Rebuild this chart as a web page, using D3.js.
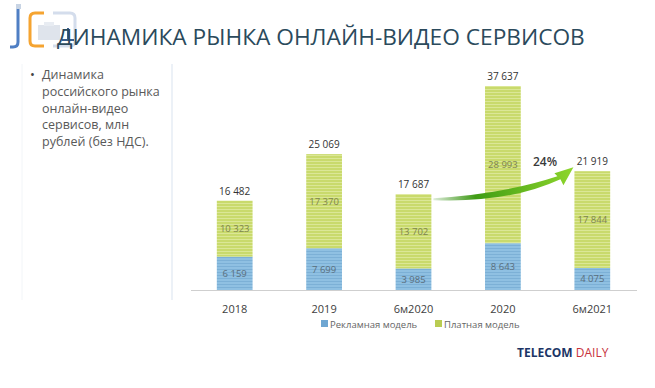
<!DOCTYPE html>
<html>
<head>
<meta charset="utf-8">
<script src="https://cdn.jsdelivr.net/npm/d3@7"></script>
<style>
  body { margin: 0; background: #fff; }
  svg { display: block; font-family: "Open Sans", "Noto Sans", sans-serif; }
</style>
</head>
<body>
<div id="chart"></div>
<script>
// categories and series (mln rubles, without VAT)
var categories = ["2018", "2019", "6м2020", "2020", "6м2021"];
var adModel = [6159, 7699, 3985, 8643, 4075];
var paidModel = [10323, 17370, 13702, 28993, 17844];
var totals = [16482, 25069, 17687, 37637, 21919];
var seriesNames = ["Рекламная модель", "Платная модель"];
var growthLabel = "24%";

var W = 655, H = 388;
var svg = d3.select("#chart").append("svg")
    .attr("width", W)
    .attr("height", H);

var defs = svg.append("defs");

// striped fills
function stripes(id, base, line) {
    var p = defs.append("pattern")
        .attr("id", id)
        .attr("patternUnits", "userSpaceOnUse")
        .attr("width", 8)
        .attr("height", 3);
    p.append("rect").attr("width", 8).attr("height", 3).attr("fill", base);
    p.append("rect").attr("y", 2).attr("width", 8).attr("height", 1).attr("fill", line);
}
stripes("blueStripe", "#8fc0e2", "#7cb0d6");
stripes("greenStripe", "#c9da6c", "#dbe796");

var grad = defs.append("linearGradient")
    .attr("id", "arrowGrad")
    .attr("x1", "0%").attr("x2", "100%").attr("y1", "0%").attr("y2", "0%");
grad.append("stop").attr("offset", "0%").attr("stop-color", "#2e8a0e").attr("stop-opacity", 0.15);
grad.append("stop").attr("offset", "30%").attr("stop-color", "#3f9c14");
grad.append("stop").attr("offset", "100%").attr("stop-color", "#8ed62c");

// logo
var logo = svg.append("g");
logo.append("path")
    .attr("d", "M18,8 L18,42 Q18,47 13,47 L10,47")
    .attr("fill", "none").attr("stroke", "#4f7fc4").attr("stroke-width", 3);
logo.append("rect").attr("x", 16).attr("y", 4).attr("width", 5).attr("height", 5).attr("fill", "#c8d4e4");
logo.append("path")
    .attr("d", "M44,13 L35,13 Q30,13 30,18 L30,41 Q30,46 35,46 L44,46")
    .attr("fill", "none").attr("stroke", "#f5a431").attr("stroke-width", 3);
logo.append("path")
    .attr("d", "M53,13 L70,13 Q75,13 75,18 L75,41 Q75,46 70,46 L53,46")
    .attr("fill", "none").attr("stroke", "#d4ddec").attr("stroke-width", 3);
logo.append("rect").attr("x", 38).attr("y", 25).attr("width", 22).attr("height", 15).attr("fill", "#dfe4ec");
logo.append("rect").attr("x", 44).attr("y", 22).attr("width", 10).attr("height", 4).attr("fill", "#e8ecf2");
logo.append("path")
    .attr("d", "M68,28 L68,40 M62,40 L74,40")
    .attr("fill", "none").attr("stroke", "#3a5f8e").attr("stroke-width", 2);

// title
svg.append("text")
    .attr("x", 57)
    .attr("y", 45)
    .attr("font-size", 22.7)
    .attr("fill", "#2b4a5c")
    .text("ДИНАМИКА РЫНКА ОНЛАЙН-ВИДЕО СЕРВИСОВ");

// left panel
svg.append("line")
    .attr("x1", 172).attr("x2", 172).attr("y1", 64).attr("y2", 300)
    .attr("stroke", "#e6edf4").attr("stroke-width", 1.5);
svg.append("line")
    .attr("x1", 22).attr("x2", 22).attr("y1", 64).attr("y2", 300)
    .attr("stroke", "#f2f5f8").attr("stroke-width", 1);

var noteLines = ["Динамика", "российского рынка", "онлайн-видео", "сервисов, млн", "рублей (без НДС)."];
svg.append("text")
    .attr("x", 30).attr("y", 79)
    .attr("font-size", 13).attr("fill", "#444")
    .text("•");
svg.append("g").selectAll("text")
    .data(noteLines)
    .enter()
    .append("text")
    .attr("x", 42)
    .attr("y", function(d, i) { return 79 + i * 16.8; })
    .attr("font-size", 12.5)
    .attr("fill", "#595959")
    .text(function(d) { return d; });

// scales
var x = d3.scaleBand()
    .domain(categories)
    .range([190, 637])
    .paddingInner(0.6)
    .paddingOuter(0.3);

var y = d3.scaleLinear()
    .domain([0, 37637])
    .range([290, 86]);

var fmt = function(v) { return d3.format(",")(v).replace(/,/g, " "); };

var chart = svg.append("g");

chart.selectAll("rect.ad")
    .data(adModel)
    .enter()
    .append("rect")
    .attr("class", "ad")
    .attr("x", function(d, i) { return x(categories[i]); })
    .attr("width", x.bandwidth())
    .attr("y", function(d) { return y(d); })
    .attr("height", function(d) { return y(0) - y(d); })
    .attr("fill", "url(#blueStripe)");

chart.selectAll("rect.paid")
    .data(paidModel)
    .enter()
    .append("rect")
    .attr("class", "paid")
    .attr("x", function(d, i) { return x(categories[i]); })
    .attr("width", x.bandwidth())
    .attr("y", function(d, i) { return y(adModel[i] + d); })
    .attr("height", function(d, i) { return y(adModel[i]) - y(adModel[i] + d); })
    .attr("fill", "url(#greenStripe)");

// axis line
svg.append("line")
    .attr("x1", 191).attr("x2", 637)
    .attr("y1", y(0) + 0.5).attr("y2", y(0) + 0.5)
    .attr("stroke", "#cfcfcf").attr("stroke-width", 1);

// inner labels
chart.selectAll("text.adLabel")
    .data(adModel)
    .enter()
    .append("text")
    .attr("x", function(d, i) { return x(categories[i]) + x.bandwidth() / 2; })
    .attr("y", function(d) { return (y(0) + y(d)) / 2 + 3.5; })
    .attr("text-anchor", "middle")
    .attr("font-size", 9.5)
    .attr("fill", "#5a6e7c")
    .text(fmt);

chart.selectAll("text.paidLabel")
    .data(paidModel)
    .enter()
    .append("text")
    .attr("x", function(d, i) { return x(categories[i]) + x.bandwidth() / 2; })
    .attr("y", function(d, i) { return (y(adModel[i]) + y(adModel[i] + d)) / 2 + 3.5; })
    .attr("text-anchor", "middle")
    .attr("font-size", 9.5)
    .attr("fill", "#7d8450")
    .text(fmt);

chart.selectAll("text.total")
    .data(totals)
    .enter()
    .append("text")
    .attr("x", function(d, i) { return x(categories[i]) + x.bandwidth() / 2; })
    .attr("y", function(d) { return y(d) - 6; })
    .attr("text-anchor", "middle")
    .attr("font-size", 10)
    .attr("fill", "#333")
    .text(fmt);

// category axis
var xAxis = svg.append("g")
    .attr("transform", "translate(0," + (y(0) + 15) + ")")
    .call(d3.axisBottom(x).tickSize(0).tickPadding(0));
xAxis.select(".domain").remove();
xAxis.selectAll("text")
    .attr("font-size", 11)
    .attr("font-family", "\"Open Sans\", sans-serif")
    .attr("fill", "#404040");

// growth arrow from 6м2020 to 6м2021
var x0 = x("6м2020") + x.bandwidth() + 2;
var tipX = x("6м2021") - 1;
var ya = y(totals[2]) + 5;
var tipY = y(totals[4]) - 4;
var arrow = svg.append("g");
arrow.append("path")
    .attr("d",
        "M" + x0 + "," + (ya + 1) +
        " Q" + (x0 + 75) + "," + (ya + 4) + " " + (tipX - 13) + "," + (tipY + 12) +
        " L" + (tipX - 10) + "," + (tipY + 18) +
        " L" + tipX + "," + tipY +
        " L" + (tipX - 19) + "," + (tipY + 6) +
        " L" + (tipX - 16) + "," + (tipY + 9) +
        " Q" + (x0 + 70) + "," + (ya - 5) + " " + x0 + "," + (ya - 1) + " Z")
    .attr("fill", "url(#arrowGrad)");

svg.append("text")
    .attr("x", 545)
    .attr("y", 166)
    .attr("text-anchor", "middle")
    .attr("font-size", 12)
    .attr("font-weight", 600)
    .attr("fill", "#3a3a3a")
    .text(growthLabel);

// legend
var legendColors = ["#6ea6d2", "#b9cc52"];
var legendX = [321, 435];
var legend = svg.append("g").selectAll("g")
    .data(seriesNames)
    .enter()
    .append("g")
    .attr("transform", function(d, i) { return "translate(" + legendX[i] + ",320)"; });
legend.append("rect")
    .attr("width", 7).attr("height", 7)
    .attr("fill", function(d, i) { return legendColors[i]; });
legend.append("text")
    .attr("x", 9).attr("y", 7.5)
    .attr("font-size", 9.5)
    .attr("fill", "#666")
    .text(function(d) { return d; });

// brand
var brand = svg.append("text")
    .attr("x", 517)
    .attr("y", 357)
    .attr("font-size", 12)
    .attr("font-weight", "bold")
    .attr("font-family", "\"Open Sans\", sans-serif");
brand.append("tspan").attr("fill", "#1c3566").text("TELECOM ");
brand.append("tspan").attr("fill", "#c8323c").attr("font-weight", "normal").text("DAILY");
</script>
</body>
</html>
